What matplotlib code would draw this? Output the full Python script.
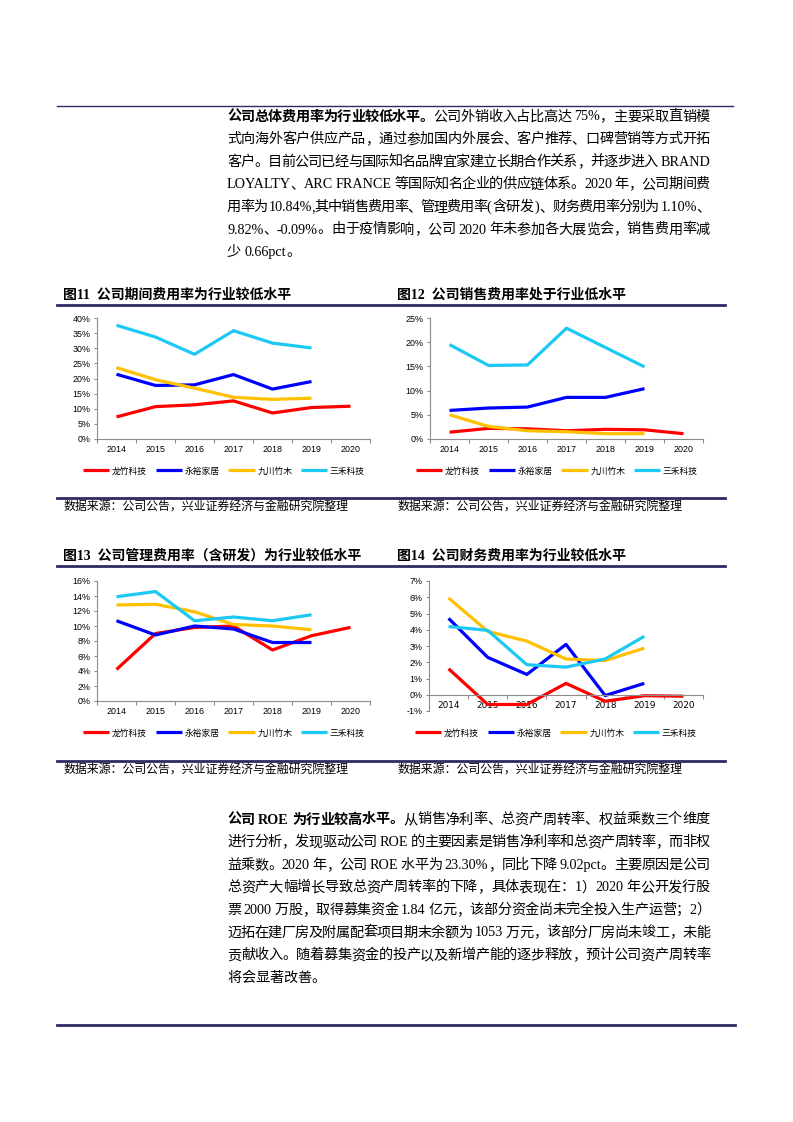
"""
Rebuild of a research-report page: two text paragraphs and four
expense-ratio line charts (figs 11-14) comparing four bamboo companies.
"""
import re

import matplotlib
matplotlib.use("Agg")
import matplotlib.pyplot as plt
import numpy as np
from matplotlib.lines import Line2D
from matplotlib.ticker import FuncFormatter

# Page size in pixels
W, H = 793, 1122

NAVY = "#2E2B63"
GRAY = "#8C8C8C"
CJK = "Noto Sans CJK SC"
SERIF_MIX = ["Liberation Serif", CJK]
SANS_MIX = ["Liberation Sans", CJK]

# ---------------- data ----------------
YEARS = ["2014", "2015", "2016", "2017", "2018", "2019", "2020"]
COMPANIES = ["龙竹科技", "永裕家居", "九川竹木", "三禾科技"]
COLORS = ["#FF0000", "#0000FF", "#FFC000", "#1CC8F4"]

# 图11 期间费用率 (%)
period_longzhu = [7.3, 10.7, 11.3, 12.6, 8.6, 10.4, 10.84]
period_yongyu = [21.4, 17.7, 17.9, 21.3, 16.5, 19.0]
period_jiuchuan = [23.6, 19.6, 16.8, 13.8, 13.1, 13.5]
period_sanhe = [37.6, 33.7, 28.0, 35.8, 31.7, 30.1]

# 图12 销售费用率 (%)
sales_longzhu = [1.4, 2.2, 2.1, 1.7, 2.0, 1.9, 1.10]
sales_yongyu = [5.9, 6.4, 6.6, 8.6, 8.6, 10.4]
sales_jiuchuan = [5.0, 2.6, 1.7, 1.5, 1.1, 1.1]
sales_sanhe = [19.5, 15.2, 15.3, 22.9, 18.9, 14.9]

# 图13 管理费用率（含研发） (%)
admin_longzhu = [4.2, 9.0, 9.8, 10.0, 6.8, 8.7, 9.82]
admin_yongyu = [10.7, 8.8, 10.0, 9.6, 7.8, 7.8]
admin_jiuchuan = [12.8, 12.9, 11.9, 10.2, 10.0, 9.5]
admin_sanhe = [13.9, 14.6, 10.7, 11.2, 10.7, 11.5]

# 图14 财务费用率 (%)
fin_longzhu = [1.6, -0.6, -0.6, 0.7, -0.4, -0.06, -0.09]
fin_yongyu = [4.7, 2.3, 1.25, 3.1, -0.05, 0.7]
fin_jiuchuan = [5.95, 3.9, 3.3, 2.2, 2.1, 2.87]
fin_sanhe = [4.2, 3.96, 1.85, 1.7, 2.2, 3.6]

# Paragraph lines: (bold lead, rest); last line of each paragraph is not justified
PARA1 = [
    ("公司总体费用率为行业较低水平。", "公司外销收入占比高达 75%，主要采取直销模"),
    ("", "式向海外客户供应产品，通过参加国内外展会、客户推荐、口碑营销等方式开拓"),
    ("", "客户。目前公司已经与国际知名品牌宜家建立长期合作关系，并逐步进入 BRAND"),
    ("", "LOYALTY、ARC FRANCE 等国际知名企业的供应链体系。2020 年，公司期间费"),
    ("", "用率为 10.84%,其中销售费用率、管理费用率( 含研发 )、财务费用率分别为 1.10%、"),
    ("", "9.82%、-0.09%。由于疫情影响，公司 2020 年未参加各大展览会，销售费用率减"),
    ("", "少 0.66pct。"),
]
PARA2 = [
    ("公司 ROE 为行业较高水平。", "从销售净利率、总资产周转率、权益乘数三个维度"),
    ("", "进行分析，发现驱动公司 ROE 的主要因素是销售净利率和总资产周转率，而非权"),
    ("", "益乘数。2020 年，公司 ROE 水平为 23.30%，同比下降 9.02pct。主要原因是公司"),
    ("", "总资产大幅增长导致总资产周转率的下降，具体表现在：1）2020 年公开发行股"),
    ("", "票 2000 万股，取得募集资金 1.84 亿元，该部分资金尚未完全投入生产运营；2）"),
    ("", "迈拓在建厂房及附属配套项目期末余额为 1053 万元，该部分厂房尚未竣工，未能"),
    ("", "贡献收入。随着募集资金的投产以及新增产能的逐步释放，预计公司资产周转率"),
    ("", "将会显著改善。"),
]

SOURCE = "数据来源：公司公告，兴业证券经济与金融研究院整理"

fig = plt.figure(figsize=(W / 100, H / 100), dpi=100)
renderer = fig.canvas.get_renderer()


def fx(x):
    return x / W


def fy(y):
    return 1 - y / H


def hline(y, x0, x1, lw):
    fig.add_artist(Line2D([fx(x0), fx(x1)], [fy(y), fy(y)], color=NAVY, lw=lw,
                          transform=fig.transFigure))


def text_width(s, **kw):
    t = fig.text(0, 0, s, **kw)
    w = t.get_window_extent(renderer).width
    t.remove()
    return w


def draw_line(lead, rest, x0, x1, y, justify=True, size=10.2):
    """Place one justified body line token by token."""
    tokens = []
    for seg, bold in ((lead, True), (rest, False)):
        for tok in re.findall(r"[A-Za-z0-9.%\-]+| |.", seg):
            tokens.append((tok, bold))
    widths = []
    for tok, bold in tokens:
        if tok == " ":
            widths.append(3.5)
        else:
            widths.append(text_width(tok, fontsize=size, family=SERIF_MIX,
                                     weight="bold" if bold else "normal"))
    gap = (x1 - x0 - sum(widths)) / (len(tokens) - 1) if justify else 0
    x = x0
    for (tok, bold), w in zip(tokens, widths):
        if tok != " ":
            fig.text(fx(x), fy(y + 4.5), tok, fontsize=size, family=SERIF_MIX,
                     weight="bold" if bold else "normal", va="baseline", ha="left")
        x += w + gap


def draw_para(lines, y0, step=22.6):
    for i, (lead, rest) in enumerate(lines):
        draw_line(lead, rest, 227, 710, y0 + i * step, justify=(i < len(lines) - 1))


def draw_chart(box, series, ylim, ystep, legend_y):
    left, top, right, bottom = box
    ax = fig.add_axes([fx(left), fy(bottom), (right - left) / W, (bottom - top) / H])
    for name, vals, color in zip(COMPANIES, series, COLORS):
        ax.plot(range(len(vals)), vals, color=color, lw=2.3, label=name,
                solid_joinstyle="round", solid_capstyle="butt")
    ax.set_xlim(-0.5, 6.5)
    ax.set_ylim(*ylim)
    ax.set_yticks(np.arange(ylim[0], ylim[1] + 0.01, ystep))
    ax.yaxis.set_major_formatter(FuncFormatter(lambda v, p: f"{v:.0f}%"))
    ax.set_xticks(range(len(YEARS)))
    ax.set_xticklabels(YEARS)
    ax.set_xticks(np.arange(-0.5, 7, 1), minor=True)
    ax.tick_params(axis="x", which="major", length=0, pad=4.3, labelsize=6.4)
    ax.tick_params(axis="x", which="minor", length=3, direction="out", color=GRAY, width=0.8)
    ax.tick_params(axis="y", length=2.5, color=GRAY, width=0.8, pad=2.2, labelsize=6.4)
    for lab in ax.get_xticklabels() + ax.get_yticklabels():
        lab.set_family("Liberation Sans")
    for s in ["top", "right"]:
        ax.spines[s].set_visible(False)
    for s in ["left", "bottom"]:
        ax.spines[s].set_color(GRAY)
        ax.spines[s].set_linewidth(0.8)
    if ylim[0] < 0:
        ax.spines["bottom"].set_position(("data", 0))
    ax.set_facecolor("none")
    cx = left + 127
    ax.legend(loc="center", bbox_to_anchor=(fx(cx), fy(legend_y)),
              bbox_transform=fig.transFigure, ncol=4, frameon=False,
              prop={"family": CJK, "size": 6.3}, handlelength=3.0,
              handletextpad=0.3, columnspacing=1.0)
    return ax


# ---------------- page text ----------------
hline(106, 57, 733, 1.0)
draw_para(PARA1, 116)

# chart block 1
fig.text(fx(63), fy(295), "图11  公司期间费用率为行业较低水平", fontsize=10, weight="bold",
         family=SERIF_MIX, va="center")
fig.text(fx(397), fy(295), "图12  公司销售费用率处于行业低水平", fontsize=10, weight="bold",
         family=SERIF_MIX, va="center")
hline(305, 57, 725, 2.0)
draw_chart((97, 318, 370, 439),
           [period_longzhu, period_yongyu, period_jiuchuan, period_sanhe], (0, 40), 5, 471)
draw_chart((430, 318, 703, 439),
           [sales_longzhu, sales_yongyu, sales_jiuchuan, sales_sanhe], (0, 25), 5, 471)
hline(498, 57, 725, 2.0)
fig.text(fx(63), fy(507), SOURCE, fontsize=8.6, family=CJK, va="center")
fig.text(fx(397), fy(507), SOURCE, fontsize=8.6, family=CJK, va="center")

# chart block 2
fig.text(fx(63), fy(556), "图13  公司管理费用率（含研发）为行业较低水平", fontsize=10,
         weight="bold", family=SERIF_MIX, va="center")
fig.text(fx(397), fy(556), "图14  公司财务费用率为行业较低水平", fontsize=10, weight="bold",
         family=SERIF_MIX, va="center")
hline(566, 57, 725, 2.0)
draw_chart((97, 581, 370, 701),
           [admin_longzhu, admin_yongyu, admin_jiuchuan, admin_sanhe], (0, 16), 2, 733)
draw_chart((429, 581, 703, 711),
           [fin_longzhu, fin_yongyu, fin_jiuchuan, fin_sanhe], (-1, 7), 1, 733)
hline(761, 57, 725, 2.0)
fig.text(fx(63), fy(770), SOURCE, fontsize=8.6, family=CJK, va="center")
fig.text(fx(397), fy(770), SOURCE, fontsize=8.6, family=CJK, va="center")

draw_para(PARA2, 819)
hline(1025, 57, 735, 2.0)

fig.savefig("out.png", dpi=100)
